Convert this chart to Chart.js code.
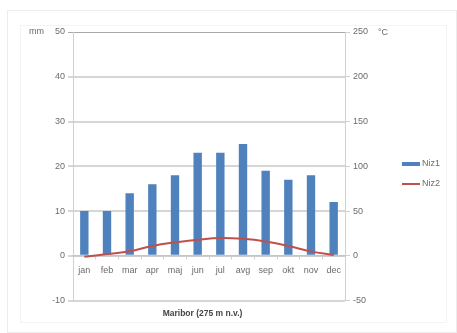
<!DOCTYPE html>
<html>
<head>
<meta charset="utf-8">
<script src="https://cdn.jsdelivr.net/npm/chart.js@4/dist/chart.umd.min.js"></script>
<style>
  html, body { margin: 0; padding: 0; background: #ffffff; }
  #wrap { width: 457px; height: 333px; position: relative; }
</style>
</head>
<body>
<div id="wrap"><canvas id="c" width="457" height="333"></canvas></div>
<script>
// Monthly data for Maribor
const months = ['jan', 'feb', 'mar', 'apr', 'maj', 'jun', 'jul', 'avg', 'sep', 'okt', 'nov', 'dec'];
const niz1 = [10, 10, 14, 16, 18, 23, 23, 25, 19, 17, 18, 12];   // left axis (mm)
const niz2 = [-1, 2, 5, 11, 15, 18, 20, 19, 16, 11, 5, 1];        // right axis (°C)
const seriesNames = ['Niz1', 'Niz2'];
const leftTicks = [-10, 0, 10, 20, 30, 40, 50];
const rightTicks = [-50, 0, 50, 100, 150, 200, 250];
const chartTitle = 'Maribor (275 m n.v.)';
const leftUnit = 'mm';
const rightUnit = '°C';

const BLUE = '#4F81BD';
const RED = '#C0504D';
const TEXT = '#6b6b6b';
const FONT = 'Liberation Sans';

// Frame, unit labels and legend
const decor = {
  id: 'decor',
  beforeDraw(chart) {
    const ctx = chart.ctx;
    ctx.save();
    ctx.strokeStyle = '#ececec';
    ctx.lineWidth = 1;
    ctx.strokeRect(7.5, 10.5, 449, 322);
    ctx.strokeStyle = '#f4f4f4';
    ctx.strokeRect(20.5, 25.5, 426, 297);
    ctx.restore();
  },
  afterDraw(chart) {
    const ctx = chart.ctx;
    const top = chart.chartArea.top;
    ctx.save();
    ctx.font = '9px "' + FONT + '"';
    ctx.fillStyle = TEXT;
    ctx.textBaseline = 'middle';
    ctx.textAlign = 'left';
    ctx.fillText(leftUnit, 29, top);
    ctx.fillText(rightUnit, 378, top + 1);

    // legend
    const lx = 402, ly1 = 164, ly2 = 184;
    ctx.fillStyle = BLUE;
    ctx.fillRect(lx, ly1 - 2, 18, 4);
    ctx.strokeStyle = RED;
    ctx.lineWidth = 2;
    ctx.beginPath();
    ctx.moveTo(lx, ly2);
    ctx.lineTo(lx + 18, ly2);
    ctx.stroke();
    ctx.fillStyle = TEXT;
    ctx.fillText(seriesNames[0], lx + 20, ly1);
    ctx.fillText(seriesNames[1], lx + 20, ly2);
    ctx.restore();
  }
};

new Chart(document.getElementById('c'), {
  data: {
    labels: months,
    datasets: [
      {
        type: 'bar',
        label: seriesNames[0],
        data: niz1,
        backgroundColor: BLUE,
        yAxisID: 'y',
        barPercentage: 0.37,
        categoryPercentage: 1,
        order: 2
      },
      {
        type: 'line',
        label: seriesNames[1],
        data: niz2,
        borderColor: RED,
        borderWidth: 2,
        pointRadius: 0,
        tension: 0.4,
        fill: false,
        yAxisID: 'y1',
        order: 1
      }
    ]
  },
  options: {
    responsive: false,
    animation: false,
    devicePixelRatio: 1,
    layout: { padding: { left: 20, right: 72, top: 32, bottom: 14.6 } },
    plugins: {
      legend: { display: false },
      tooltip: { enabled: false },
      title: {
        display: true,
        position: 'bottom',
        text: chartTitle,
        color: '#444',
        font: { family: FONT, size: 8.5, weight: 'bold' },
        padding: { top: 7.6, bottom: 0 }
      }
    },
    scales: {
      x: {
        position: { y: 0 },
        offset: true,
        grid: {
          display: true,
          drawOnChartArea: false,
          offset: true,
          tickLength: 3,
          color: '#cfcfcf'
        },
        border: { display: true, color: '#c4c4c4', width: 1.5 },
        ticks: {
          color: TEXT,
          font: { family: FONT, size: 9 },
          padding: 6,
          maxRotation: 0,
          autoSkip: false
        }
      },
      y: {
        position: 'left',
        min: leftTicks[0],
        max: leftTicks[leftTicks.length - 1],
        afterBuildTicks(scale) { scale.ticks = leftTicks.map(v => ({ value: v })); },
        afterFit(scale) { scale.width = 53; },
        grid: {
          color: ctx => ctx.tick && ctx.tick.value === 50 ? '#a8a8a8' : '#d6d6d6',
          lineWidth: ctx => ctx.tick && ctx.tick.value === 50 ? 1 : 2,
          tickLength: 5
        },
        border: { display: true, color: '#d0d0d0' },
        ticks: {
          color: TEXT,
          font: { family: FONT, size: 9 },
          padding: 3
        }
      },
      y1: {
        position: 'right',
        min: rightTicks[0],
        max: rightTicks[rightTicks.length - 1],
        afterBuildTicks(scale) { scale.ticks = rightTicks.map(v => ({ value: v })); },
        afterFit(scale) { scale.width = 40; },
        grid: {
          drawOnChartArea: false,
          color: '#d0d0d0',
          tickLength: 5
        },
        border: { display: true, color: '#d0d0d0' },
        ticks: {
          color: TEXT,
          font: { family: FONT, size: 9 },
          padding: 3
        }
      }
    }
  },
  plugins: [decor]
});
</script>
</body>
</html>
